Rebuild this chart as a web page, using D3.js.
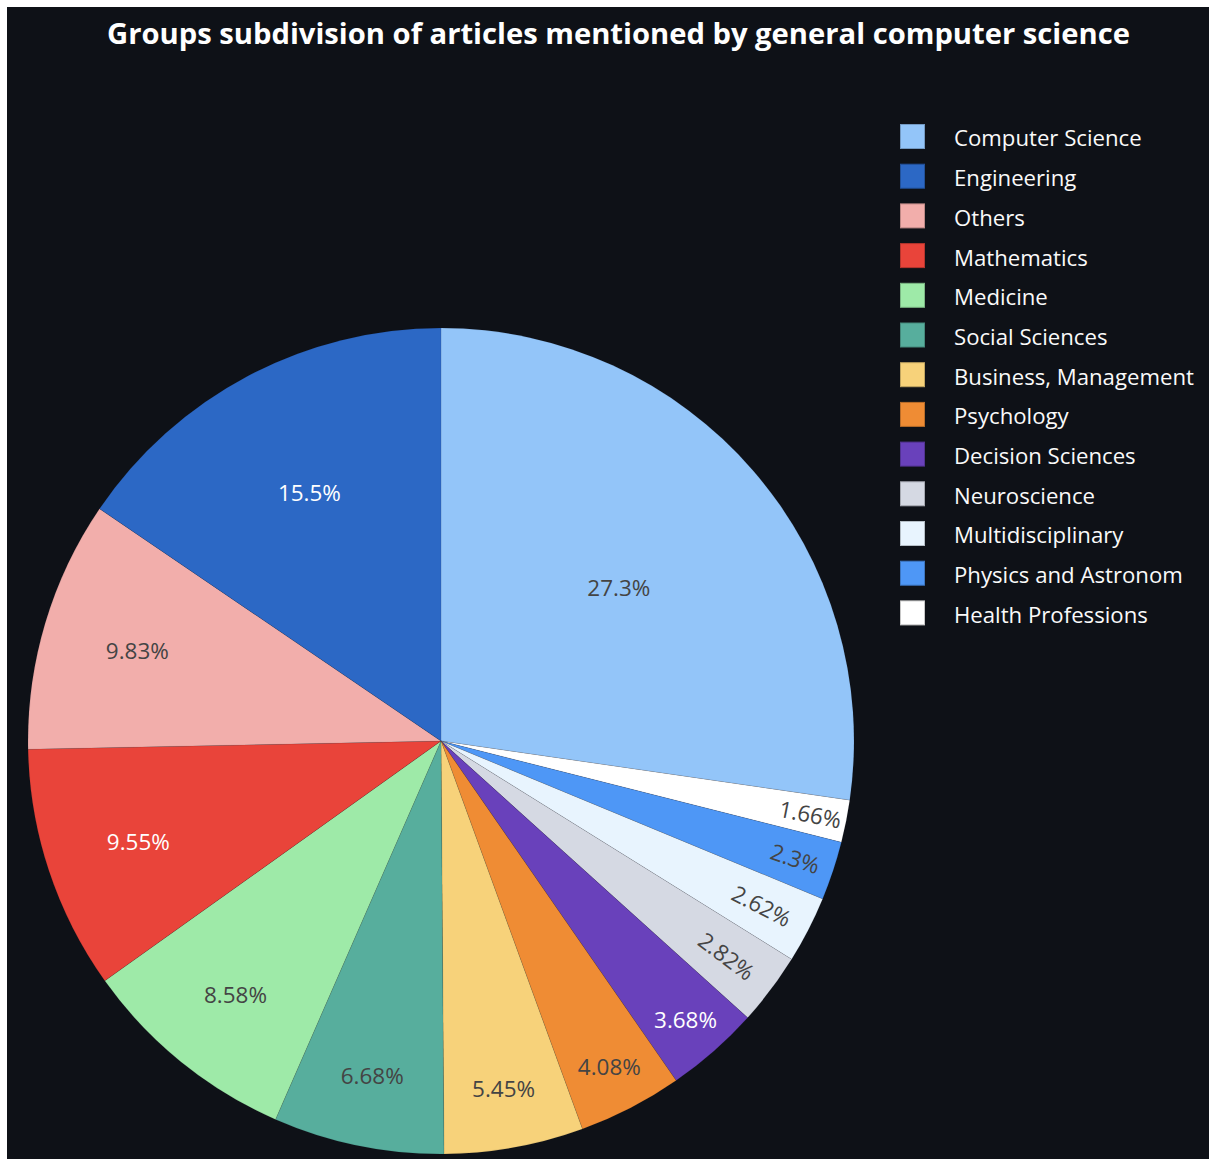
<!DOCTYPE html>
<html>
<head>
<meta charset="utf-8">
<script src="https://cdn.jsdelivr.net/npm/d3@7"></script>
<style>
  html, body { margin: 0; padding: 0; background: #ffffff; }
  svg { display: block; }
</style>
</head>
<body>
<svg id="chart" width="1209" height="1159"></svg>
<script>
// ---- data (legend order, descending) ----
const categories = ["Computer Science", "Engineering", "Others", "Mathematics", "Medicine",
  "Social Sciences", "Business, Management", "Psychology", "Decision Sciences",
  "Neuroscience", "Multidisciplinary", "Physics and Astronom", "Health Professions"];
const values = [27.3, 15.5, 9.83, 9.55, 8.58, 6.68, 5.45, 4.08, 3.68, 2.82, 2.62, 2.3, 1.66];
const colors = ["#93c5f9", "#2c68c5", "#f2aeab", "#e9443a", "#9eeaa8", "#57ae9d", "#f7d27a",
  "#ef8c34", "#6941bb", "#d5d9e3", "#e8f4fe", "#4e97f6", "#ffffff"];
const titleText = "Groups subdivision of articles mentioned by general computer science";

const W = 1209, H = 1159;
const FONT = "'Open Sans', 'Noto Sans', sans-serif";
const svg = d3.select("#chart");

// background (white frame on top/left as in reference)
svg.append("rect").attr("x", 7).attr("y", 7).attr("width", W - 7).attr("height", H - 7).attr("fill", "#0e1117");

// helper: fit font size to a target width
function fitSize(text, target, weight) {
  const t = svg.append("text").attr("font-family", FONT).attr("font-size", 100)
    .attr("font-weight", weight || "normal").text(text);
  const w = t.node().getComputedTextLength();
  t.remove();
  return 100 * target / w;
}

// title
const titleSize = fitSize(titleText, 1023, "bold");
svg.append("text")
  .attr("x", 618.5).attr("y", 44)
  .attr("text-anchor", "middle")
  .attr("font-family", FONT).attr("font-weight", "bold")
  .attr("font-size", titleSize)
  .attr("fill", "#ffffff")
  .text(titleText);

// pie
const cx = 441, cy = 741, R = 413;
const order = [0].concat(d3.range(categories.length - 1, 0, -1));
const pieData = order.map(i => ({ name: categories[i], value: values[i], color: colors[i] }));
const pie = d3.pie().sort(null).value(d => d.value);
const arcs = pie(pieData);
const arcGen = d3.arc().innerRadius(0).outerRadius(R);

const g = svg.append("g").attr("transform", `translate(${cx},${cy})`);
g.selectAll("path.slice").data(arcs).join("path")
  .attr("class", "slice")
  .attr("d", arcGen)
  .attr("fill", d => d.data.color)
  .attr("stroke", "rgba(14,17,23,0.14)")
  .attr("stroke-width", 0.6);

// inside text placement (plotly-like)
const labelSize = fitSize("5.45%", 63);
const TEXTPAD = 3;
function calcMaxHalfSize(a, halfAngle, r, ring) {
  const q = a + 1 / (2 * Math.tan(halfAngle));
  return r * Math.min(1 / (Math.sqrt(q * q + 0.5) + q), ring / (Math.sqrt(a * a + ring / 2) + a));
}
function calcRotate(t) { return (180 / Math.PI * t + 720) % 180 - 90; }
function contrast(c) {
  const k = d3.rgb(c);
  const b = (k.r * 299 + k.g * 587 + k.b * 114) / 1000;
  return b > 128 ? "#444444" : "#ffffff";
}

arcs.forEach(d => {
  const label = d.data.value + "%";
  const t = g.append("text")
    .attr("font-family", FONT).attr("font-size", labelSize)
    .attr("text-anchor", "middle")
    .attr("fill", contrast(d.data.color))
    .text(label);
  const bb = t.node().getBBox();
  const w = bb.width, h = bb.height;
  t.attr("y", -(bb.y + bb.height / 2));
  const half = (d.endAngle - d.startAngle) / 2;
  const mid = (d.endAngle + d.startAngle) / 2;
  let tr;
  const rIns = Math.min(1 / (1 + 1 / Math.sin(half)), 0.5);
  const hScale = rIns * R * 2 / Math.sqrt(w * w + h * h);
  if (hScale >= 1) {
    tr = { scale: 1, rCenter: 1 - rIns, rotate: 0 };
  } else {
    const cands = [{ scale: hScale, rCenter: 1 - rIns, rotate: 0 }];
    const r2 = Math.max(0, R - 2 * TEXTPAD);
    // tangential
    let a = h / w, s = calcMaxHalfSize(a, half, r2, 1);
    cands.push({ scale: s * 2 / w, rCenter: Math.cos(s / r2) - a * s / r2, rotate: calcRotate(mid + Math.PI / 2) });
    // radial
    a = w / h; s = calcMaxHalfSize(a, half, r2, 1);
    cands.push({ scale: s * 2 / h, rCenter: Math.cos(s / r2) - a * s / r2, rotate: calcRotate(mid) });
    tr = cands.reduce((m, c) => c.scale > m.scale ? c : m, cands[0]);
    tr.scale = Math.min(1, tr.scale);
  }
  const tx = Math.sin(mid) * R * tr.rCenter;
  const ty = -Math.cos(mid) * R * tr.rCenter;
  t.attr("transform", `translate(${tx},${ty}) rotate(${tr.rotate}) scale(${tr.scale})`);
});

// legend
const legSize = fitSize("Business, Management", 240);
const leg = svg.append("g");
categories.forEach((c, i) => {
  const yc = 136.5 + i * 39.7;
  leg.append("rect")
    .attr("x", 900.5).attr("y", yc - 12).attr("width", 24).attr("height", 24)
    .attr("fill", colors[i])
    .attr("stroke", d3.color(colors[i]).darker(0.7))
    .attr("stroke-width", 1);
  leg.append("text")
    .attr("x", 954).attr("y", yc + 2)
    .attr("dy", "0.36em")
    .attr("font-family", FONT).attr("font-size", legSize)
    .attr("fill", "#fafafa")
    .text(c);
});
</script>
</body>
</html>
